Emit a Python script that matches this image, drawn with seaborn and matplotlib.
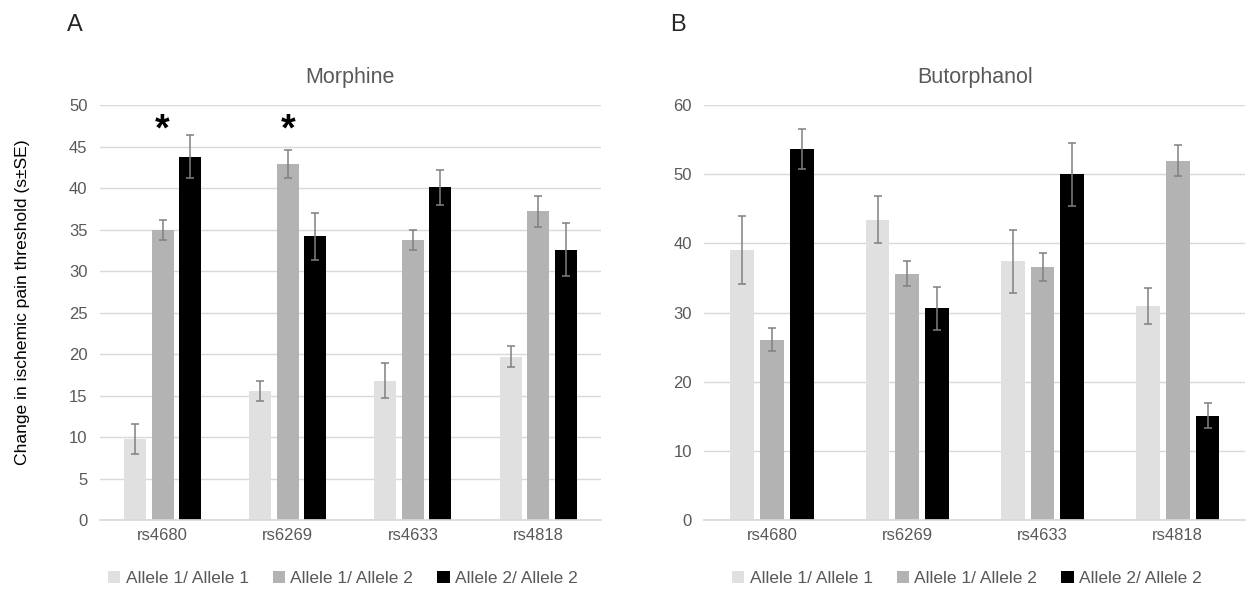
import numpy as np
import pandas as pd
import matplotlib
matplotlib.use('Agg')
import matplotlib.pyplot as plt
import seaborn as sns

# Data
snps = ['rs4680', 'rs6269', 'rs4633', 'rs4818']
genotypes = ['Allele 1/ Allele 1', 'Allele 1/ Allele 2', 'Allele 2/ Allele 2']

morphine_mean = [[9.8, 15.6, 16.8, 19.7],
                 [35.0, 42.9, 33.7, 37.2],
                 [43.8, 34.2, 40.1, 32.6]]
morphine_se = [[1.8, 1.2, 2.1, 1.3],
               [1.2, 1.7, 1.2, 1.9],
               [2.6, 2.8, 2.1, 3.2]]

butorphanol_mean = [[39.1, 43.4, 37.4, 31.0],
                    [26.1, 35.6, 36.6, 52.0],
                    [53.7, 30.6, 50.0, 15.1]]
butorphanol_se = [[4.9, 3.4, 4.6, 2.6],
                  [1.7, 1.8, 2.0, 2.3],
                  [2.9, 3.1, 4.6, 1.8]]

# significant comparisons (snp, genotype) marked with an asterisk
morphine_sig = [('rs4680', 'Allele 1/ Allele 2'), ('rs6269', 'Allele 1/ Allele 2')]

colors = ['#e0e0e0', '#b3b3b3', '#000000']
text_gray = '#595959'
grid_gray = '#d9d9d9'

sns.set_theme(style='white')
plt.rcParams['font.family'] = ['Liberation Sans', 'DejaVu Sans']


def to_long(means, ses):
    rows = []
    for g, gt in enumerate(genotypes):
        for s, snp in enumerate(snps):
            rows.append({'snp': snp, 'genotype': gt, 'mean': means[g][s], 'se': ses[g][s]})
    return pd.DataFrame(rows)


def draw_panel(ax, df, title, ymax, step, sig=None):
    sns.barplot(data=df, x='snp', y='mean', hue='genotype', order=snps,
                hue_order=genotypes, palette=colors, width=0.66, gap=0.2,
                errorbar=None, edgecolor='none', ax=ax)
    bar_groups = list(ax.containers)
    # error bars from the drawn bars
    for g, cont in enumerate(bar_groups):
        sub = df[df['genotype'] == genotypes[g]].set_index('snp').loc[snps]
        xs = [p.get_x() + p.get_width() / 2 for p in cont.patches]
        hs = [p.get_height() for p in cont.patches]
        ax.errorbar(xs, hs, yerr=sub['se'].values, fmt='none', ecolor='#808080',
                    elinewidth=1.1, capsize=3, capthick=1.1, zorder=5)
        if sig:
            for s, snp in enumerate(snps):
                if (snp, genotypes[g]) in sig:
                    ax.text(xs[s], 44.8, '*', ha='center', va='bottom',
                            fontsize=27, fontweight='bold', color='black')
    ax.set_xlim(-0.5, 3.5)
    ax.set_ylim(0, ymax)
    ax.set_yticks(np.arange(0, ymax + 1, step))
    ax.yaxis.grid(True, color=grid_gray, linewidth=1)
    ax.set_axisbelow(True)
    for side in ['top', 'right', 'left']:
        ax.spines[side].set_visible(False)
    ax.spines['bottom'].set_color(grid_gray)
    ax.tick_params(axis='both', colors=text_gray, labelsize=12, length=0)
    ax.tick_params(axis='y', pad=9)
    ax.tick_params(axis='x', pad=6)
    ax.set_xlabel('')
    ax.set_ylabel('')
    ax.set_title(title, color=text_gray, fontsize=15.5, pad=16)
    ax.legend(loc='upper center', bbox_to_anchor=(0.485, -0.085), ncol=3,
              frameon=False, fontsize=12.5, handlelength=0.7,
              handleheight=0.7, handletextpad=0.3, columnspacing=1.4,
              labelcolor=text_gray)


fig = plt.figure(figsize=(12.58, 5.91), dpi=100)
ax1 = fig.add_axes([0.0795, 0.120, 0.398, 0.702])
ax2 = fig.add_axes([0.560, 0.120, 0.430, 0.702])

draw_panel(ax1, to_long(morphine_mean, morphine_se), 'Morphine', 50, 5, sig=morphine_sig)
draw_panel(ax2, to_long(butorphanol_mean, butorphanol_se), 'Butorphanol', 60, 10)

ax1.set_ylabel('Change in ischemic pain threshold (s\u00b1SE)', fontsize=12.6,
               color='black')
ax1.yaxis.set_label_coords(-0.14, 0.525)

fig.text(0.053, 0.958, 'A', fontsize=17, va='center', ha='left')
fig.text(0.533, 0.958, 'B', fontsize=17, va='center', ha='left')

fig.savefig('out.png', dpi=100)
